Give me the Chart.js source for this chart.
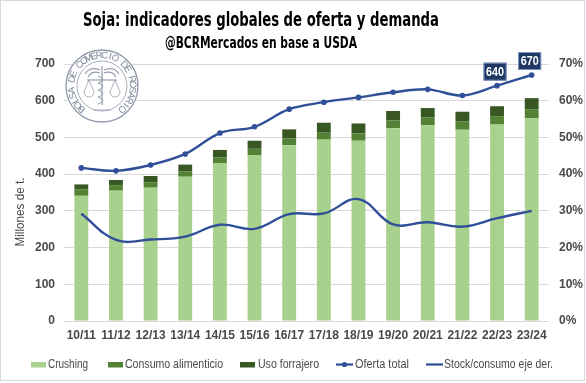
<!DOCTYPE html>
<html><head><meta charset="utf-8">
<script src="https://cdn.jsdelivr.net/npm/chart.js@4.4.0/dist/chart.umd.min.js"></script>
<style>html,body{margin:0;padding:0;background:#fff}#wrap{width:586px;height:383px;position:relative}</style>
</head><body><div id="wrap"><canvas id="c" width="586" height="383"></canvas></div>
<script>
const categories = ['10/11','11/12','12/13','13/14','14/15','15/16','16/17','17/18','18/19','19/20','20/21','21/22','22/23','23/24'];
const crushing = [341,355,363,393,429,451,479,494,491,525,533,521,535,552];
const consumoAlimenticio = [18,15,15,14,16,18,18,19,20,21,21,22,23,25];
const usoForrajero = [13,14,17,19,21,22,25,27,27,26,26,27,27,30];
const ofertaTotal = [417,409,425,455,512,529,577,596,609,623,631,614,641,670];
const stockConsumo = [0.292,0.221,0.222,0.230,0.262,0.251,0.291,0.293,0.332,0.263,0.269,0.257,0.280,0.300];
const ofertaLabels = [null,null,null,null,null,null,null,null,null,null,null,null,'640','670'];
const leftTicks = [0,100,200,300,400,500,600,700];
const rightTicks = ['0%','10%','20%','30%','40%','50%','60%','70%'];
const seriesNames = ['Crushing','Consumo alimenticio','Uso forrajero','Oferta total','Stock/consumo eje der.'];
const titleText = 'Soja: indicadores globales de oferta y demanda';
const subtitleText = '@BCRMercados en base a USDA';
const yAxisTitle = 'Millones de t.';
const sealText = 'BOLSA DE COMERCIO DE ROSARIO';

const C_CRUSH = '#a9d18e', C_FOOD = '#548235', C_FEED = '#385723', C_LINE = '#2f4f98';
const TXT = '#4a4a4a';
const FONT = '"Liberation Sans", Arial, sans-serif';

function fitText(ctx, text, x, y, targetW, font) {
  ctx.font = font;
  const w = ctx.measureText(text).width;
  const s = targetW / w;
  ctx.save();
  ctx.translate(x, y);
  ctx.scale(s, 1);
  ctx.fillText(text, 0, 0);
  ctx.restore();
}

const decor = {
  id: 'decor',
  beforeDatasetsDraw(chart) {
    const ctx = chart.ctx;
    const cx = 102, cy = 86, R = 36;
    ctx.save();
    ctx.fillStyle = '#fff';
    ctx.beginPath(); ctx.arc(cx, cy, R + 1, 0, Math.PI * 2); ctx.fill();
    ctx.strokeStyle = '#8f99aa'; ctx.lineWidth = 1.3;
    ctx.beginPath(); ctx.arc(cx, cy, R, 0, Math.PI * 2); ctx.stroke();
    ctx.lineWidth = 0.8;
    ctx.beginPath(); ctx.arc(cx, cy, R - 11, 0, Math.PI * 2); ctx.stroke();
    ctx.fillStyle = '#7f899b';
    ctx.font = '9.5px "Liberation Sans", sans-serif';
    ctx.textAlign = 'center'; ctx.textBaseline = 'middle';
    const start = 126 * Math.PI / 180, end = 414 * Math.PI / 180;
    const n = sealText.length;
    for (let i = 0; i < n; i++) {
      const a = start + (end - start) * (i + 0.5) / n;
      ctx.save();
      ctx.translate(cx + Math.cos(a) * (R - 5.5), cy + Math.sin(a) * (R - 5.5));
      ctx.rotate(a + Math.PI / 2);
      ctx.fillText(sealText[i], 0, 0);
      ctx.restore();
    }
    ctx.strokeStyle = '#959eae'; ctx.lineWidth = 1.2;
    ctx.beginPath(); ctx.moveTo(cx, cy - 20); ctx.lineTo(cx, cy + 19); ctx.stroke();
    ctx.beginPath(); ctx.moveTo(cx - 15, cy - 6); ctx.lineTo(cx + 15, cy - 6); ctx.stroke();
    ctx.beginPath();
    ctx.moveTo(cx - 2, cy - 16); ctx.quadraticCurveTo(cx - 12, cy - 20, cx - 17, cy - 12);
    ctx.moveTo(cx + 2, cy - 16); ctx.quadraticCurveTo(cx + 12, cy - 20, cx + 17, cy - 12);
    ctx.moveTo(cx - 2, cy - 13); ctx.quadraticCurveTo(cx - 10, cy - 16, cx - 14, cy - 9);
    ctx.moveTo(cx + 2, cy - 13); ctx.quadraticCurveTo(cx + 10, cy - 16, cx + 14, cy - 9);
    ctx.stroke();
    ctx.lineWidth = 0.8;
    [-13, 13].forEach(dx => {
      ctx.beginPath();
      ctx.moveTo(cx + dx, cy - 6); ctx.lineTo(cx + dx - 5, cy + 6);
      ctx.moveTo(cx + dx, cy - 6); ctx.lineTo(cx + dx + 5, cy + 6);
      ctx.stroke();
      ctx.beginPath(); ctx.arc(cx + dx, cy + 6, 5, 0, Math.PI); ctx.stroke();
    });
    ctx.lineWidth = 1;
    ctx.beginPath();
    for (let k = 0; k < 4; k++) {
      ctx.moveTo(cx - 4, cy - 10 + k * 7);
      ctx.quadraticCurveTo(cx + 6, cy - 6 + k * 7, cx - 4, cy - 3 + k * 7);
    }
    ctx.stroke();
    ctx.lineWidth = 0.8;
    ctx.beginPath(); ctx.moveTo(cx - 9, cy + 24); ctx.lineTo(cx + 9, cy + 24); ctx.stroke();
    ctx.restore();
  },
  afterDraw(chart) {
    const ctx = chart.ctx;
    ctx.save();
    ctx.strokeStyle = '#d9d9d9'; ctx.lineWidth = 1;
    ctx.strokeRect(0.5, 0.5, 584, 380);
    ctx.fillStyle = '#000';
    ctx.textAlign = 'left'; ctx.textBaseline = 'alphabetic';
    fitText(ctx, titleText, 83, 26, 356, 'bold 20px "Liberation Sans Narrow", "DejaVu Sans Condensed", sans-serif');
    fitText(ctx, subtitleText, 165, 48, 192, 'bold 16px "Liberation Sans Narrow", "DejaVu Sans Condensed", sans-serif');
    ctx.save();
    ctx.translate(20, 212);
    ctx.rotate(-Math.PI / 2);
    ctx.fillStyle = TXT; ctx.textAlign = 'left'; ctx.textBaseline = 'middle';
    ctx.font = '13px ' + FONT;
    const tw = 69;
    fitText(ctx, yAxisTitle, -tw / 2, 0, tw, '13px ' + FONT);
    ctx.restore();
    const ly = 364.5;
    ctx.textBaseline = 'middle'; ctx.textAlign = 'left';
    const boxes = [[31, C_CRUSH, 48, 40], [108, C_FOOD, 125, 98], [240, C_FEED, 258, 61]];
    boxes.forEach(([bx, col, tx, w], i) => {
      ctx.fillStyle = col; ctx.fillRect(bx, ly - 2.5, 15, 5.5);
      ctx.fillStyle = TXT; fitText(ctx, seriesNames[i], tx, ly, w, '12px ' + FONT);
    });
    ctx.strokeStyle = C_LINE; ctx.lineWidth = 2.2;
    ctx.beginPath(); ctx.moveTo(336, ly); ctx.lineTo(353, ly); ctx.stroke();
    ctx.fillStyle = C_LINE; ctx.beginPath(); ctx.arc(344.5, ly, 2.6, 0, Math.PI * 2); ctx.fill();
    ctx.fillStyle = TXT; fitText(ctx, seriesNames[3], 355, ly, 54, '12px ' + FONT);
    ctx.beginPath(); ctx.moveTo(426, ly); ctx.lineTo(443, ly); ctx.stroke();
    ctx.fillStyle = TXT; fitText(ctx, seriesNames[4], 444, ly, 109, '12px ' + FONT);
    const meta = chart.getDatasetMeta(3);
    ofertaLabels.forEach((lab, i) => {
      if (!lab) return;
      const p = meta.data[i];
      const bw = 23, bh = 18, bx = p.x - bw / 2 - 2, by = p.y - 13 - bh / 2 - 1;
      ctx.fillStyle = '#1f3864'; ctx.fillRect(bx, by, bw, bh);
      ctx.strokeStyle = '#8faadc'; ctx.lineWidth = 0.8; ctx.strokeRect(bx + 0.5, by + 0.5, bw - 1, bh - 1);
      ctx.fillStyle = '#fff'; ctx.textAlign = 'left'; ctx.textBaseline = 'middle';
      fitText(ctx, lab, bx + 2.5, by + bh / 2 + 0.5, bw - 5, 'bold 13px ' + FONT);
    });
    ctx.restore();
  }
};

const tickFont = { family: FONT, size: 12, weight: 'bold' };

new Chart(document.getElementById('c'), {
  data: {
    labels: categories,
    datasets: [
      { type: 'bar', label: seriesNames[0], data: crushing, backgroundColor: C_CRUSH, yAxisID: 'y', stack: 'cons', order: 2, barPercentage: 0.4, categoryPercentage: 1 },
      { type: 'bar', label: seriesNames[1], data: consumoAlimenticio, backgroundColor: C_FOOD, yAxisID: 'y', stack: 'cons', order: 2, barPercentage: 0.4, categoryPercentage: 1 },
      { type: 'bar', label: seriesNames[2], data: usoForrajero, backgroundColor: C_FEED, yAxisID: 'y', stack: 'cons', order: 2, barPercentage: 0.4, categoryPercentage: 1 },
      { type: 'line', label: seriesNames[3], data: ofertaTotal, borderColor: C_LINE, backgroundColor: C_LINE, borderWidth: 2.4, pointRadius: 2.8, pointBackgroundColor: C_LINE, pointBorderWidth: 0, tension: 0.35, yAxisID: 'y', stack: 'oferta', order: 0 },
      { type: 'line', label: seriesNames[4], data: stockConsumo, borderColor: C_LINE, borderWidth: 2.4, pointRadius: 0, tension: 0.4, yAxisID: 'y1', order: 0 }
    ]
  },
  options: {
    responsive: false,
    animation: false,
    devicePixelRatio: 1,
    layout: { padding: { top: 64, left: 0, right: 0, bottom: 0 } },
    plugins: { legend: { display: false }, tooltip: { enabled: false }, title: { display: false } },
    scales: {
      x: {
        stacked: true,
        offset: true,
        grid: { display: false, drawTicks: false },
        border: { display: false },
        ticks: { color: TXT, font: tickFont, padding: 7, maxRotation: 0, autoSkip: false },
        afterFit(s) { s.height = 62; }
      },
      y: {
        position: 'left',
        stacked: true,
        min: 0, max: 700,
        afterBuildTicks(s) { s.ticks = leftTicks.map(v => ({ value: v })); },
        grid: { color: '#d9d9d9', lineWidth: 1, drawTicks: false },
        border: { display: false },
        ticks: { color: TXT, font: tickFont, padding: 9 },
        afterFit(s) { s.width = 64; }
      },
      y1: {
        position: 'right',
        min: 0, max: 0.7,
        afterBuildTicks(s) { s.ticks = rightTicks.map((t, i) => ({ value: i / 10 })); },
        grid: { display: false, drawTicks: false },
        border: { display: false },
        ticks: { color: TXT, font: tickFont, padding: 10, callback: (v, i) => rightTicks[i] },
        afterFit(s) { s.width = 37; }
      }
    }
  },
  plugins: [decor]
});
</script>
</body></html>
